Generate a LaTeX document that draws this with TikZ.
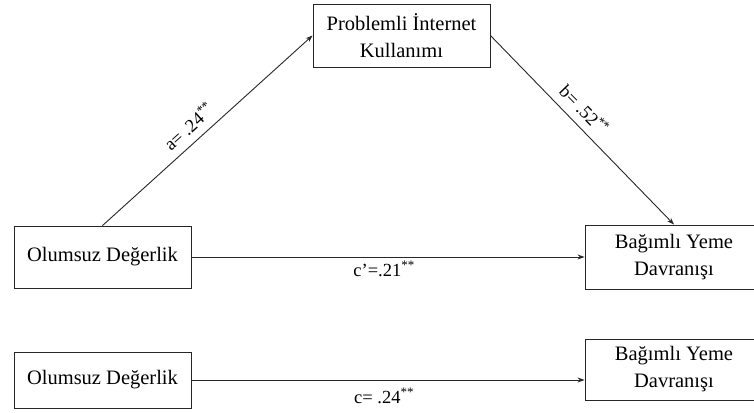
\documentclass[tikz,border=0pt]{standalone}
\usepackage{fontspec}
\setmainfont{Liberation Serif}
\usetikzlibrary{arrows.meta}
\begin{document}
\begin{tikzpicture}[x=1pt,y=-1pt,
  varbox/.style={draw=black!85, line width=0.9pt, align=center, inner sep=0pt,
    font=\fontsize{20.5}{27}\selectfont},
  path/.style={draw=black!85, line width=0.9pt, -{Stealth[length=7pt,width=5pt]}},
  coef/.style={font=\fontsize{18.5}{20}\selectfont, inner sep=2pt}]
\useasboundingbox (0,0) rectangle (754,412);
\node[varbox, minimum width=177pt, minimum height=63pt] (P) at (401.5,35.5) {Problemli İnternet\\Kullanımı};
\node[varbox, minimum width=177pt, minimum height=62pt] (O1) at (102.5,257) {Olumsuz Değerlik};
\node[varbox, minimum width=178pt, minimum height=64pt] (B1) at (674,257) {Bağımlı Yeme\\Davranışı};
\node[varbox, minimum width=177pt, minimum height=56pt] (O2) at (102.5,380) {Olumsuz Değerlik};
\node[varbox, minimum width=178pt, minimum height=61pt] (B2) at (674,369.5) {Bağımlı Yeme\\Davranışı};
\draw[path] (O1.north) -- node[coef, above=6pt, sloped, pos=0.46] {a= .24\textsuperscript{**}} (P.west);
\draw[path] (P.east) -- node[coef, above=6pt, sloped, pos=0.45] {b= .52\textsuperscript{**}} (B1.north);
\draw[path] (O1.east) -- node[coef, below, pos=0.49, yshift=-2pt] {c’=.21\textsuperscript{**}} (B1.west);
\coordinate (B2in) at (O2.east -| B2.west);
\draw[path] (O2.east) -- node[coef, below, pos=0.49, yshift=-6pt] {c= .24\textsuperscript{**}} (B2in);
\end{tikzpicture}
\end{document}
